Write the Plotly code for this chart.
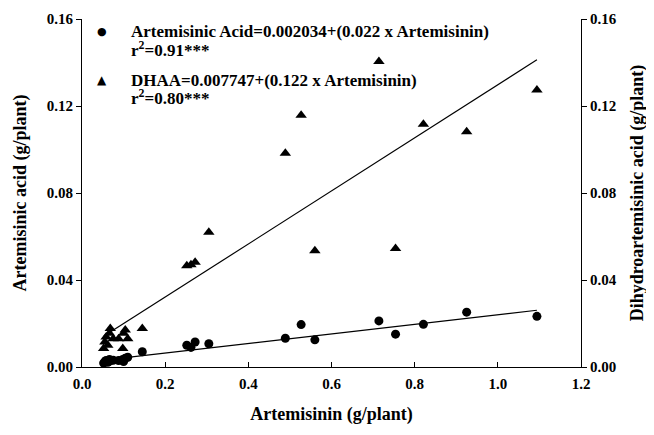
import plotly.graph_objects as go

artemisinin = [0.052, 0.055, 0.058, 0.062, 0.066, 0.068, 0.075, 0.088, 0.098, 0.100,
               0.104, 0.110, 0.145, 0.252, 0.262, 0.272, 0.305, 0.489, 0.527, 0.560,
               0.714, 0.754, 0.821, 0.925, 1.094]
artemisinic_acid = [0.0018, 0.0025, 0.0030, 0.0022, 0.0035, 0.0028, 0.0031, 0.0030, 0.0035, 0.0025,
                    0.0040, 0.0045, 0.0070, 0.0100, 0.0090, 0.0115, 0.0107, 0.0132, 0.0195, 0.0125,
                    0.0212, 0.0151, 0.0196, 0.0252, 0.0233]
dhaa = [0.0085, 0.0115, 0.0138, 0.0100, 0.0155, 0.0177, 0.0130, 0.0130, 0.0085, 0.0155,
        0.0170, 0.0130, 0.0177, 0.0465, 0.0470, 0.0482, 0.0619, 0.0983, 0.1158, 0.0534,
        0.1405, 0.0545, 0.1116, 0.1082, 0.1274]

aa_fit = (0.002034, 0.022)
dhaa_fit = (0.007747, 0.122)

legend_lines = [
    ("●", "Artemisinic Acid=0.002034+(0.022 x Artemisinin)", "r<sup>2</sup>=0.91***"),
    ("▲", "DHAA=0.007747+(0.122 x Artemisinin)", "r<sup>2</sup>=0.80***"),
]

x_ticks = [0.0, 0.2, 0.4, 0.6, 0.8, 1.0, 1.2]
y_ticks = [0.00, 0.04, 0.08, 0.12, 0.16]

FONT = "Liberation Serif"
xmin, xmax = min(artemisinin), max(artemisinin)

# page body has an 8px margin; compensate so the plot sits where it should
W, H = 646, 427
ML, MR, MT, MB = 74, 73, 11, 68
PW, PH = W - ML - MR, H - MT - MB


def px_to_paper(px, py):
    # px, py are page coordinates
    return (px - 8 - ML) / PW, 1 - (py - 8 - MT) / PH


fig = go.Figure()
fig.add_trace(go.Scatter(
    x=[xmin, xmax], y=[aa_fit[0] + aa_fit[1] * xmin, aa_fit[0] + aa_fit[1] * xmax],
    mode="lines", line=dict(color="black", width=1.2), showlegend=False, hoverinfo="skip"))
fig.add_trace(go.Scatter(
    x=[xmin, xmax], y=[dhaa_fit[0] + dhaa_fit[1] * xmin, dhaa_fit[0] + dhaa_fit[1] * xmax],
    mode="lines", line=dict(color="black", width=1.2), showlegend=False, hoverinfo="skip",
    yaxis="y2"))
fig.add_trace(go.Scatter(
    x=artemisinin, y=artemisinic_acid, mode="markers", showlegend=False,
    marker=dict(symbol="circle", size=9, color="black"), name="Artemisinic Acid"))
fig.add_trace(go.Scatter(
    x=artemisinin, y=dhaa, mode="markers", yaxis="y2", showlegend=False,
    marker=dict(symbol="triangle-up", size=10, color="black"), name="DHAA"))

legfont = dict(family=FONT, size=17, color="black", weight="bold")
annotations = []
rows_y = [(32, 49), (80, 97)]
for (sym, l1, l2), (y1, y2) in zip(legend_lines, rows_y):
    sx, sy = px_to_paper(102, y1)
    annotations.append(dict(x=sx, y=sy, xref="paper", yref="paper", text=sym, showarrow=False,
                            xanchor="center", yanchor="middle",
                            font=dict(family="DejaVu Sans", size=11 if sym == "●" else 12, color="black")))
    tx, ty = px_to_paper(129, y1)
    annotations.append(dict(x=tx, y=ty, xref="paper", yref="paper", text=l1, showarrow=False,
                            xanchor="left", yanchor="middle", font=legfont))
    tx, ty = px_to_paper(129, y2)
    annotations.append(dict(x=tx, y=ty, xref="paper", yref="paper", text=l2, showarrow=False,
                            xanchor="left", yanchor="middle", font=legfont))

tickfont = dict(family=FONT, size=15, color="black", weight="bold")
titlefont = dict(family=FONT, size=18, color="black", weight="bold")

fig.update_layout(
    width=W, height=H,
    margin=dict(l=ML, r=MR, t=MT, b=MB, autoexpand=False),
    paper_bgcolor="white", plot_bgcolor="white",
    font=dict(family=FONT, color="black"),
    showlegend=False,
    annotations=annotations,
    xaxis=dict(range=[0, 1.2], tickvals=x_ticks, ticktext=[f"{v:.1f}" for v in x_ticks],
               ticks="inside", ticklen=5, tickcolor="black", showline=True, linecolor="black",
               linewidth=1, showgrid=False, zeroline=False, tickfont=tickfont, ticklabelstandoff=3,
               title=dict(text="Artemisinin (g/plant)", font=titlefont, standoff=16)),
    yaxis=dict(range=[0, 0.16], tickvals=y_ticks, ticktext=[f"{v:.2f}" for v in y_ticks],
               ticks="outside", ticklen=5, tickcolor="black", showline=True, linecolor="black",
               linewidth=1, showgrid=False, zeroline=False, tickfont=tickfont,
               title=dict(text="Artemisinic acid (g/plant)", font=titlefont, standoff=15)),
    yaxis2=dict(range=[0, 0.16], tickvals=y_ticks, ticktext=[f"{v:.2f}" for v in y_ticks],
                overlaying="y", side="right",
                ticks="outside", ticklen=5, tickcolor="black", showline=True, linecolor="black",
                linewidth=1, showgrid=False, zeroline=False, tickfont=tickfont,
                title=dict(text="Dihydroartemisinic acid (g/plant)", font=titlefont, standoff=14)),
)

fig.write_html("out.html")
